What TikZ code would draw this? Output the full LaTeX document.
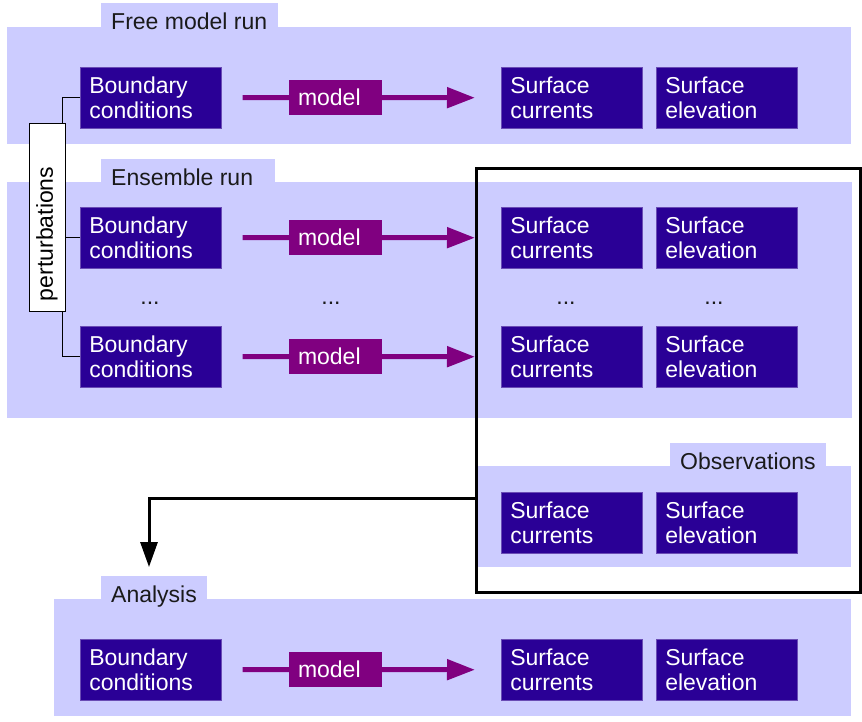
\documentclass[tikz,border=0pt]{standalone}
\usepackage{fontspec}
\setmainfont{Liberation Sans}
\usepackage{tikz}
\usetikzlibrary{positioning,arrows.meta,calc}
\definecolor{lavender}{HTML}{CCCCFF}
\definecolor{indigo}  {HTML}{2A0096}
\definecolor{plum}    {HTML}{800080}
\definecolor{ink}     {HTML}{1A1A1A}
\tikzset{
  every node/.style={font=\fontsize{23}{25.5}\selectfont},
  % --- nodes
  blk/.style   = {anchor=north west, fill=indigo, draw=indigo!70!white, line width=0.6pt,
                  text=white, minimum width=141pt, minimum height=61pt, text width=123pt,
                  inner xsep=9pt, inner ysep=0pt, align=left},
  mdl/.style   = {fill=plum, text=white, minimum width=93pt, minimum height=35pt,
                  text width=75pt, inner xsep=9pt, inner ysep=0pt, align=left},
  tablbl/.style= {anchor=base west, text=ink, inner sep=0pt},
  dots/.style  = {anchor=base, text=ink, inner sep=0pt},
  pert/.style  = {draw=black, fill=white, line width=0.8pt, rotate=90, text=black,
                  minimum width=188pt, minimum height=36pt, text width=168pt,
                  inner xsep=10pt, inner ysep=0pt, align=left},
  frame/.style = {draw=black, line width=3pt, minimum width=384pt, minimum height=424pt,
                  inner sep=0pt},
  % --- edges
  flow/.style  = {draw=plum, line width=5pt},
  flowtip/.style = {flow, -{Triangle[length=28pt,width=20pt]}, shorten >=26pt},
  feed/.style  = {draw=black, line width=3pt, -{Triangle[length=25pt,width=17pt]}},
  tie/.style   = {draw=black, line width=0.8pt},
}
\begin{document}
\begin{tikzpicture}[x=1pt,y=-1pt]
  \useasboundingbox (0,0) rectangle (862,721);

  % panels with their tabs
  \foreach \px/\py/\qx/\qy/\tx/\ty/\ux/\lbl in {
    7/27/851/144/101/3/278/Free model run,
    7/182/852/418/101/159/275/Ensemble run,
    478/466/851/567/670/443/826/Observations,
    54/599/851/716/101/576/207/Analysis}
  {
    \fill[lavender] (\px,\py) rectangle (\qx,\qy);
    \fill[lavender] (\tx,\ty) rectangle (\ux,\py);
    \node[tablbl] at (\tx+10,\ty+26.5) {\lbl};
  }

  \node[frame] (obsframe) at (668,380) {};

  % one row per run: boundary, model, surface fields
  \foreach \r/\y in {free/67, ensa/207, ensb/326, ana/639}
  {
    \node[blk] (bc\r) at (80,\y)  {Boundary\\conditions};
    \node[blk] (sc\r) at (501,\y) {Surface\\currents};
    \node[blk] (se\r) at (656,\y) {Surface\\elevation};
    \node[mdl] (m\r)  at (335.5,\y+30.5) {model};
    \draw[flow, shorten <=21pt] (bc\r.east) -- (m\r.west);
    \draw[flowtip] (m\r.east) -- (sc\r.west);
  }

  \node[blk] (scobs) at (501,492) {Surface\\currents};
  \node[blk] (seobs) at (656,492) {Surface\\elevation};

  \foreach \x in {150,331,566,714}
    \node[dots] (dot\x) at (\x,304) {...};

  % perturbations feeding the boundary conditions
  \node[pert] (pert) at (47,217) {perturbations};
  \draw[tie] (bcfree.west) -| ([xshift=-3pt]pert.south east);
  \draw[tie] (bcensa.west) -- (bcensa.west -| pert.south);
  \draw[tie] (bcensb.west) -| ([xshift=-3pt]pert.south west);

  % ensemble + observations into the analysis
  \coordinate (obsturn) at (149,498);
  \coordinate (anatop)  at (149,567);
  \draw[feed] (obsframe.west |- obsturn) -- (obsturn) -- (anatop);
\end{tikzpicture}
\end{document}
